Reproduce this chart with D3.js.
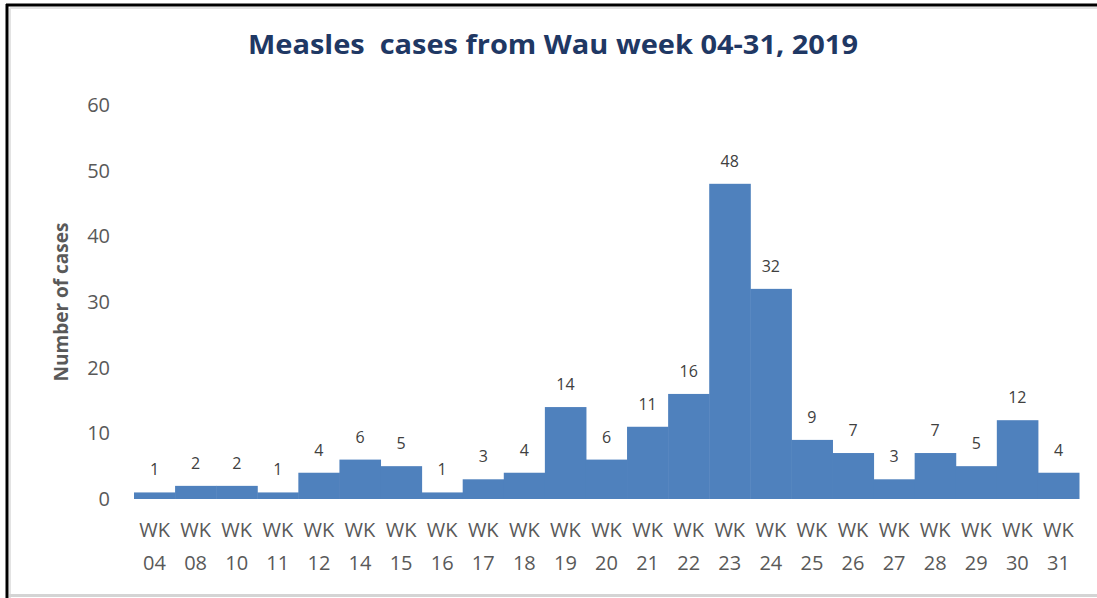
<!DOCTYPE html>
<html>
<head>
<meta charset="utf-8">
<script src="https://cdn.jsdelivr.net/npm/d3@7"></script>
<style>
  html, body { margin: 0; padding: 0; background: #fff; }
  svg { display: block; }
</style>
</head>
<body>
<div id="chart"></div>
<script>
var weeks = ['04', '08', '10', '11', '12', '14', '15', '16', '17', '18', '19', '20',
             '21', '22', '23', '24', '25', '26', '27', '28', '29', '30', '31'];
var cases = [1, 2, 2, 1, 4, 6, 5, 1, 3, 4, 14, 6, 11, 16, 48, 32, 9, 7, 3, 7, 5, 12, 4];
var yTicks = [0, 10, 20, 30, 40, 50, 60];

var width = 1097, height = 598;
var margin = {left: 134, right: 18, top: 105, bottom: 99};

var svg = d3.select('#chart').append('svg')
    .attr('width', width)
    .attr('height', height);

// frame like the screenshot crop
svg.append('rect').attr('x', 0).attr('y', 0).attr('width', width).attr('height', height).attr('fill', '#fff');
svg.append('line').attr('x1', 6).attr('x2', width).attr('y1', 5).attr('y2', 5)
    .attr('stroke', '#000').attr('stroke-width', 3);
svg.append('line').attr('x1', 7).attr('x2', 7).attr('y1', 4).attr('y2', height)
    .attr('stroke', '#000').attr('stroke-width', 3);
svg.append('line').attr('x1', 10).attr('x2', width).attr('y1', 8).attr('y2', 8)
    .attr('stroke', '#e3e3e3').attr('stroke-width', 2);
svg.append('line').attr('x1', 10).attr('x2', 10).attr('y1', 8).attr('y2', height)
    .attr('stroke', '#e3e3e3').attr('stroke-width', 2);
svg.append('line').attr('x1', 9).attr('x2', width).attr('y1', 595.5).attr('y2', 595.5)
    .attr('stroke', '#d4d4d4').attr('stroke-width', 3);

var x = d3.scaleBand()
    .domain(weeks)
    .range([margin.left, width - margin.right])
    .padding(0);

var y = d3.scaleLinear()
    .domain([0, 60])
    .range([height - margin.bottom, margin.top]);

svg.append('text')
    .attr('x', 553)
    .attr('y', 54)
    .attr('text-anchor', 'middle')
    .attr('textLength', 610)
    .attr('lengthAdjust', 'spacingAndGlyphs')
    .style('white-space', 'pre')
    .style('font-family', 'Open Sans, sans-serif')
    .style('font-weight', 'bold')
    .style('font-size', '27px')
    .style('fill', '#1F3864')
    .text('Measles  cases from Wau week 04-31, 2019');

// y tick labels
svg.selectAll('.ytick')
    .data(yTicks)
  .enter().append('text')
    .attr('class', 'ytick')
    .attr('x', 110)
    .attr('y', function(d) { return y(d); })
    .attr('dy', '0.35em')
    .attr('text-anchor', 'end')
    .style('font-family', 'Open Sans, sans-serif')
    .style('font-size', '20px')
    .style('fill', '#595959')
    .text(function(d) { return d; });

svg.append('text')
    .attr('transform', 'translate(68,' + 302 + ') rotate(-90)')
    .attr('text-anchor', 'middle')
    .style('font-family', 'Open Sans, sans-serif')
    .style('font-weight', 'bold')
    .style('font-size', '19px')
    .style('fill', '#595959')
    .text('Number of cases');

svg.selectAll('.bar')
    .data(cases)
  .enter().append('rect')
    .attr('class', 'bar')
    .attr('x', function(d, i) { return x(weeks[i]); })
    .attr('y', function(d) { return y(d); })
    .attr('width', x.bandwidth() + 0.5)
    .attr('height', function(d) { return y(0) - y(d); })
    .attr('fill', '#4F81BD');

svg.selectAll('.val')
    .data(cases)
  .enter().append('text')
    .attr('class', 'val')
    .attr('x', function(d, i) { return x(weeks[i]) + x.bandwidth() / 2; })
    .attr('y', function(d) { return y(d) - 17; })
    .attr('text-anchor', 'middle')
    .style('font-family', 'Open Sans, sans-serif')
    .style('font-size', '16px')
    .style('fill', '#404040')
    .text(function(d) { return d; });

// x labels on two lines
var xl = svg.selectAll('.xlab')
    .data(weeks)
  .enter().append('text')
    .attr('class', 'xlab')
    .attr('text-anchor', 'middle')
    .style('font-family', 'Open Sans, sans-serif')
    .style('font-size', '20px')
    .style('fill', '#595959');
xl.append('tspan')
    .attr('x', function(d) { return x(d) + x.bandwidth() / 2; })
    .attr('y', 537)
    .text('WK');
xl.append('tspan')
    .attr('x', function(d) { return x(d) + x.bandwidth() / 2; })
    .attr('y', 570)
    .text(function(d) { return d; });
</script>
</body>
</html>
